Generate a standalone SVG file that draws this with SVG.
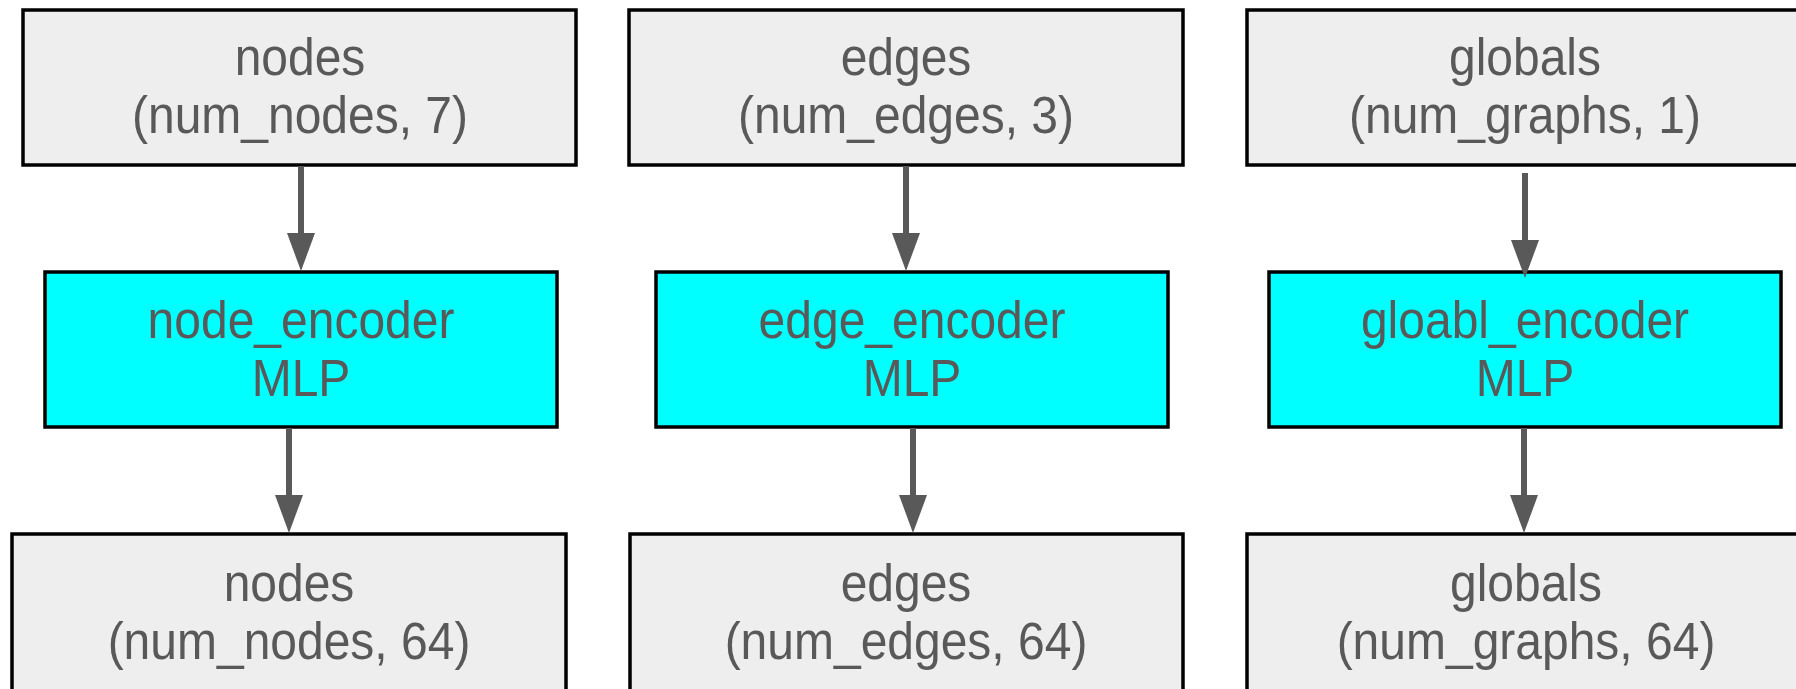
<svg xmlns="http://www.w3.org/2000/svg" width="1796" height="689" viewBox="0 0 1796 689">
<defs>
<style>
.box{fill:#eeeeee;stroke:#000000;stroke-width:3.5}
.enc{fill:#00ffff;stroke:#000000;stroke-width:3.5}
text{font-family:"Liberation Sans",Arial,sans-serif;font-size:48px;fill:#595959;text-anchor:middle}
.edge{stroke:#595959;stroke-width:6;fill:none}
.head{fill:#595959}
</style>
</defs>
<rect width="1796" height="689" fill="#ffffff"/>
<g id="nodes_in"><rect class="box" x="23" y="10" width="553" height="155"/><text transform="translate(300,75) scale(1,1.08)">nodes</text><text transform="translate(300,133) scale(1,1.08)">(num_nodes, 7)</text></g>
<g id="edges_in"><rect class="box" x="629" y="10" width="554" height="155"/><text transform="translate(906,75) scale(1,1.08)">edges</text><text transform="translate(906,133) scale(1,1.08)">(num_edges, 3)</text></g>
<g id="globals_in"><rect class="box" x="1247" y="10" width="560" height="155"/><text transform="translate(1525,75) scale(1,1.08)">globals</text><text transform="translate(1525,133) scale(1,1.08)">(num_graphs, 1)</text></g>
<g id="node_encoder"><rect class="enc" x="45" y="272" width="512" height="155"/><text transform="translate(301,338) scale(1,1.08)">node_encoder</text><text transform="translate(301,396) scale(1,1.08)">MLP</text></g>
<g id="edge_encoder"><rect class="enc" x="656" y="272" width="512" height="155"/><text transform="translate(912,338) scale(1,1.08)">edge_encoder</text><text transform="translate(912,396) scale(1,1.08)">MLP</text></g>
<g id="global_encoder"><rect class="enc" x="1269" y="272" width="512" height="155"/><text transform="translate(1525,338) scale(1,1.08)">gloabl_encoder</text><text transform="translate(1525,396) scale(1,1.08)">MLP</text></g>
<g id="nodes_out"><rect class="box" x="12" y="534" width="554" height="160"/><text transform="translate(289,601) scale(1,1.08)">nodes</text><text transform="translate(289,659) scale(1,1.08)">(num_nodes, 64)</text></g>
<g id="edges_out"><rect class="box" x="630" y="534" width="553" height="160"/><text transform="translate(906,601) scale(1,1.08)">edges</text><text transform="translate(906,659) scale(1,1.08)">(num_edges, 64)</text></g>
<g id="globals_out"><rect class="box" x="1247" y="534" width="560" height="160"/><text transform="translate(1526,601) scale(1,1.08)">globals</text><text transform="translate(1526,659) scale(1,1.08)">(num_graphs, 64)</text></g>
<g id="connectors">
<line class="edge" x1="301" y1="166" x2="301" y2="236"/><polygon class="head" points="287,233 315,233 301,271"/>
<line class="edge" x1="906" y1="166" x2="906" y2="236"/><polygon class="head" points="892,233 920,233 906,271"/>
<line class="edge" x1="1525" y1="173" x2="1525" y2="243"/><polygon class="head" points="1511,240 1539,240 1525,278"/>
<line class="edge" x1="289" y1="428" x2="289" y2="498"/><polygon class="head" points="275,495 303,495 289,533"/>
<line class="edge" x1="913" y1="428" x2="913" y2="498"/><polygon class="head" points="899,495 927,495 913,533"/>
<line class="edge" x1="1524" y1="428" x2="1524" y2="498"/><polygon class="head" points="1510,495 1538,495 1524,533"/>
</g>
</svg>
